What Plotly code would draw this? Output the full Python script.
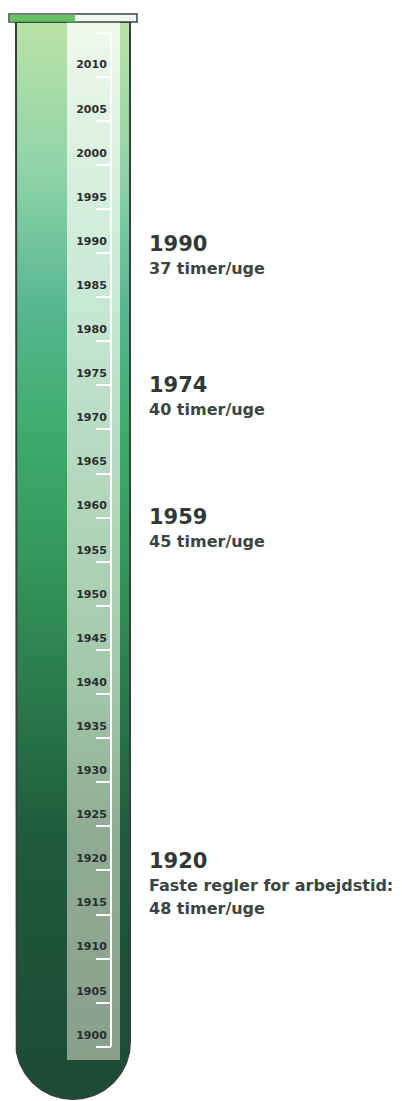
import numpy as np
import plotly.graph_objects as go

# ---------------- data ----------------
tick_years = list(range(1900, 2016, 5))
tick_labels = [str(y) if y <= 2010 else "" for y in tick_years]
event_years = [1990, 1974, 1959, 1920]
event_titles = ["1990", "1974", "1959", "1920"]
event_texts = [
    ["37 timer/uge"],
    ["40 timer/uge"],
    ["45 timer/uge"],
    ["Faste regler for arbejdstid:", "48 timer/uge"],
]

# ---------------- geometry helpers ----------------
W, H = 402, 1101
PX_PER_YEAR = 8.82
REF_YEAR, REF_PX = 1990, 253


def yr(p):
    """pixel row -> year value on the y axis"""
    return REF_YEAR - (p - REF_PX) / PX_PER_YEAR


# tube outline (pixel space, converted to axis units)
left, right, top, bottom = 16, 130, 22, 1099
r = (right - left) / 2
cx = (left + right) / 2
cy = bottom - r
theta = np.linspace(np.pi, 0, 80)
tube_x = [left, left] + list(cx + r * np.cos(theta)) + [right, right]
tube_p = [top, cy] + list(cy + r * np.sin(theta)) + [cy, top]
tube_x.append(tube_x[0])
tube_p.append(tube_p[0])
tube_y = [yr(p) for p in tube_p]

g_lo, g_hi = 1100, 14


def pos(p):
    return (g_lo - p) / (g_lo - g_hi)


tube_scale = [
    [0.0, "#1c4a37"],
    [pos(830), "#1f5c3c"],
    [pos(680), "#2b7d4d"],
    [pos(550), "#35995c"],
    [pos(430), "#3dad6b"],
    [pos(300), "#5ab894"],
    [pos(170), "#90d4a8"],
    [1.0, "#bce3a6"],
]

strip_l, strip_r, strip_t, strip_b = 67, 120, 22, 1060
strip_x = [strip_l, strip_r, strip_r, strip_l, strip_l]
strip_y = [yr(p) for p in [strip_b, strip_b, strip_t, strip_t, strip_b]]
strip_scale = [
    [0.0, "#889e8a"],
    [pos(830), "#90ac94"],
    [pos(680), "#a2c8aa"],
    [pos(430), "#b9dcc4"],
    [pos(300), "#c8e8d6"],
    [pos(170), "#d8f0e0"],
    [1.0, "#f2f9ee"],
]

fig = go.Figure()
fig.add_trace(go.Scatter(
    x=tube_x, y=tube_y, mode="lines", fill="toself",
    fillgradient=dict(type="vertical", colorscale=tube_scale,
                      start=yr(g_lo), stop=yr(g_hi)),
    line=dict(color="#34413c", width=2), hoverinfo="skip", showlegend=False,
))
fig.add_trace(go.Scatter(
    x=strip_x, y=strip_y, mode="lines", fill="toself",
    fillgradient=dict(type="vertical", colorscale=strip_scale,
                      start=yr(g_lo), stop=yr(g_hi)),
    line=dict(width=0), hoverinfo="skip", showlegend=False,
))

shapes = [
    # scale spine
    dict(type="line", xref="x", yref="y", x0=111, x1=111,
         y0=tick_years[0], y1=tick_years[-1],
         line=dict(color="white", width=2)),
    # rim
    dict(type="rect", xref="x", yref="y", x0=9, x1=137, y0=yr(22), y1=yr(14),
         fillcolor="#f4f8f2", line=dict(color="#3a4742", width=1.5)),
    dict(type="rect", xref="x", yref="y", x0=10, x1=75, y0=yr(21.5), y1=yr(14.5),
         fillcolor="#68c064", line=dict(width=0)),
]

annotations = []
for yv, title, lines in zip(event_years, event_titles, event_texts):
    annotations.append(dict(
        x=147, y=yv, xref="x", yref="y", xanchor="left", yanchor="middle",
        yshift=9, text=title, showarrow=False,
        font=dict(family="DejaVu Sans", size=21, color="#2f3a36", weight="bold"),
    ))
    for i, line in enumerate(lines):
        annotations.append(dict(
            x=147, y=yv, xref="x", yref="y", xanchor="left", yanchor="middle",
            yshift=-15 - 23 * i, text=line, showarrow=False,
            font=dict(family="DejaVu Sans", size=16, color="#3b4541", weight="bold"),
        ))

fig.update_layout(
    width=W, height=H,
    margin=dict(l=0, r=0, t=0, b=0),
    paper_bgcolor="white", plot_bgcolor="white",
    showlegend=False,
    shapes=shapes,
    annotations=annotations,
    xaxis=dict(range=[0, W], visible=False, fixedrange=True),
    yaxis=dict(
        range=[yr(H), yr(0)], anchor="free", position=111 / W, side="left",
        showgrid=False, zeroline=False, showline=False,
        ticks="outside", ticklen=15, tickwidth=2, tickcolor="white",
        tickmode="array", tickvals=tick_years, ticktext=tick_labels,
        tickfont=dict(family="DejaVu Sans", size=11, color="#2b302e", weight="bold"),
        ticklabelshift=-12, ticklabelstandoff=-13, fixedrange=True,
    ),
)

fig.write_html(
    "out.html",
    config={"displayModeBar": False},
    post_script="document.body.style.margin='0';document.body.style.padding='0';",
)
